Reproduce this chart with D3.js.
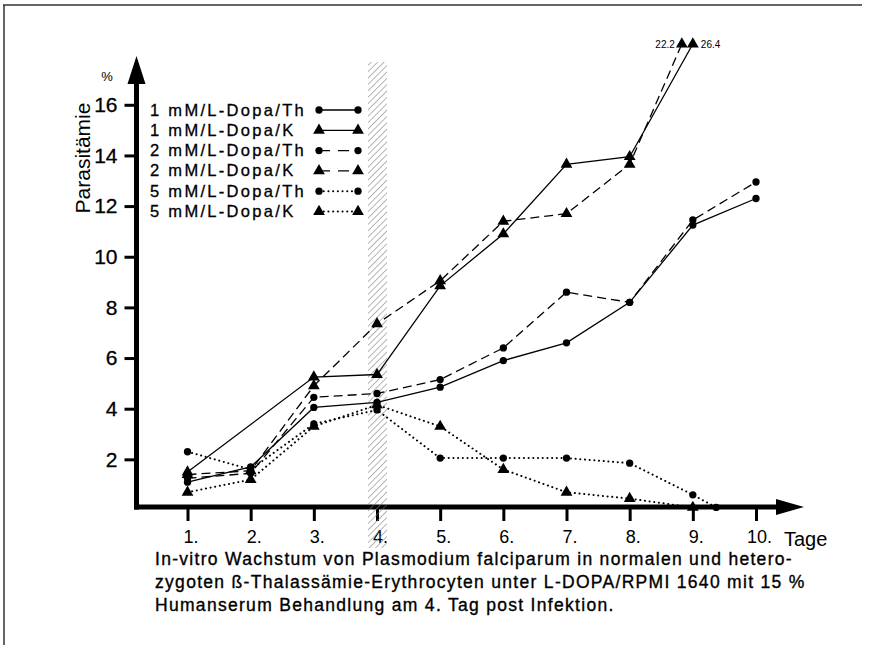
<!DOCTYPE html>
<html>
<head>
<meta charset="utf-8">
<script src="https://cdnjs.cloudflare.com/ajax/libs/d3/7.8.5/d3.min.js"></script>
<style>
  body { margin: 0; background: #fff; }
  svg { display: block; font-family: "Liberation Sans", Arial, sans-serif; }
</style>
</head>
<body>
<script>
// days on the x axis
const days = [1, 2, 3, 4, 5, 6, 7, 8, 9, 10];
const dayLabels = ['1.', '2.', '3.', '4.', '5.', '6.', '7.', '8.', '9.', '10.'];
const yTicks = [2, 4, 6, 8, 10, 12, 14, 16];

// parasitaemia in %, one value per day (null = no point)
const th1 = [1.1, 1.7, 4.05, 4.25, 4.85, 5.9, 6.6, 8.2, 11.25, 12.3];
const k1 = [1.5, null, 5.25, 5.35, 8.85, 10.9, 13.65, 13.95, 26.4, null];
const th2 = [1.25, 1.45, 4.45, 4.6, 5.15, 6.4, 8.6, 8.2, 11.45, 12.95];
const k2 = [1.4, 1.55, 4.9, 7.35, 9.05, 11.4, 11.7, 13.65, 22.2, null];
const th5 = [2.3, 1.6, 3.4, 3.95, 2.05, 2.05, 2.05, 1.85, 0.6, null];
const k5 = [0.7, 1.2, 3.3, 4.15, 3.3, 1.6, 0.7, 0.45, 0.1, null];
// last 5 mM/Th point sits between day 9 and 10
const th5Tail = [9.37, 0.1];

const seriesNames = ['1 mM/L-Dopa/Th', '1 mM/L-Dopa/K', '2 mM/L-Dopa/Th',
                     '2 mM/L-Dopa/K', '5 mM/L-Dopa/Th', '5 mM/L-Dopa/K'];
const caption = [
  'In-vitro Wachstum von Plasmodium falciparum in normalen und hetero-',
  'zygoten ß-Thalassämie-Erythrocyten unter L-DOPA/RPMI 1640 mit 15 %',
  'Humanserum Behandlung am 4. Tag post Infektion.'
];

const width = 885, height = 645;

const svg = d3.select('body').append('svg')
  .attr('width', width)
  .attr('height', height);

// page frame (scan edges)
svg.append('line').attr('x1', 3).attr('y1', 5).attr('x2', 862).attr('y2', 5)
  .attr('stroke', '#333').attr('stroke-width', 1.5);
svg.append('line').attr('x1', 4).attr('y1', 5).attr('x2', 4).attr('y2', 645)
  .attr('stroke', '#333').attr('stroke-width', 1.5);

// scales: values above the top are clamped onto the arrow tip
const x = d3.scaleLinear().domain([1, 10]).range([187.5, 756]);
const y = d3.scaleLinear().domain([0, 18.4]).range([510, 44]).clamp(true);

const axisX = 136.5, axisY = 507;

// hatched band, treatment on day 4
const defs = svg.append('defs');
const pat = defs.append('pattern')
  .attr('id', 'hatch')
  .attr('patternUnits', 'userSpaceOnUse')
  .attr('width', 4.5).attr('height', 4.5)
  .attr('patternTransform', 'rotate(45)');
pat.append('line').attr('x1', 0).attr('y1', 0).attr('x2', 0).attr('y2', 4.5)
  .attr('stroke', '#7a7a7a').attr('stroke-width', 1.1);

// y axis
const yAxis = d3.axisLeft(y).tickValues(yTicks).tickSize(12).tickPadding(7);
const gy = svg.append('g')
  .attr('transform', `translate(${axisX},0)`)
  .call(yAxis);
gy.select('.domain').remove();
gy.selectAll('.tick line').attr('stroke', '#000').attr('stroke-width', 3);
gy.selectAll('.tick text')
  .attr('font-size', 21).attr('fill', '#000')
  .attr('stroke', '#000').attr('stroke-width', 0.3)
  .attr('font-family', '"Liberation Sans", Arial, sans-serif');

svg.append('line')
  .attr('x1', axisX).attr('x2', axisX)
  .attr('y1', axisY + 2.5).attr('y2', 80)
  .attr('stroke', '#000').attr('stroke-width', 5);
svg.append('path')
  .attr('d', `M${axisX - 9},84 L${axisX},56 L${axisX + 9},84 Z`)
  .attr('fill', '#000');

// x axis
const xAxis = d3.axisBottom(x).tickValues(days)
  .tickSize(14).tickPadding(9)
  .tickFormat((d, i) => dayLabels[i]);
const gx = svg.append('g')
  .attr('transform', `translate(0,${axisY})`)
  .call(xAxis);
gx.select('.domain').remove();
gx.selectAll('.tick line').attr('stroke', '#000').attr('stroke-width', 3);
gx.selectAll('.tick text')
  .attr('font-size', 18).attr('fill', '#000').attr('dx', 3)
  .attr('font-family', '"Liberation Sans", Arial, sans-serif');

svg.append('line')
  .attr('x1', axisX - 2.5).attr('x2', 780)
  .attr('y1', axisY).attr('y2', axisY)
  .attr('stroke', '#000').attr('stroke-width', 5);
svg.append('path')
  .attr('d', `M776,${axisY - 8} L804,${axisY} L776,${axisY + 8} Z`)
  .attr('fill', '#000');

svg.append('text')
  .attr('x', 784).attr('y', 546)
  .attr('font-size', 20)
  .text('Tage');

// axis title and unit
svg.append('text')
  .attr('transform', 'translate(90,158) rotate(-90)')
  .attr('text-anchor', 'middle')
  .attr('font-size', 21)
  .text('Parasitämie');
svg.append('text')
  .attr('x', 107).attr('y', 81)
  .attr('text-anchor', 'middle')
  .attr('font-size', 13)
  .text('%');

// hatch band over day 4
const bandX = x(4);
svg.append('rect')
  .attr('x', bandX - 9).attr('y', 62)
  .attr('width', 19).attr('height', 486)
  .attr('fill', 'url(#hatch)');

// series
const styles = [
  { data: th1, shape: d3.symbolCircle, dash: null },
  { data: k1, shape: d3.symbolTriangle, dash: null },
  { data: th2, shape: d3.symbolCircle, dash: '9,5' },
  { data: k2, shape: d3.symbolTriangle, dash: '9,5' },
  { data: th5, shape: d3.symbolCircle, dash: '0.1,4.6' },
  { data: k5, shape: d3.symbolTriangle, dash: '0.1,4.6' }
];

styles.forEach((s, i) => {
  let pts = days.map((d, j) => [d, s.data[j]]).filter(p => p[1] != null);
  if (s.data === th5) pts.push(th5Tail);
  const dotted = s.dash && s.dash.startsWith('0.1');
  // shift the clipped 22.2 marker left so both tips are visible
  const px = p => x(p[0]) + (s.data === k2 && p[1] > 18.4 ? -11 : 0);

  svg.append('path')
    .datum(pts)
    .attr('d', d3.line().x(px).y(d => y(d[1])))
    .attr('fill', 'none')
    .attr('stroke', '#000')
    .attr('stroke-width', dotted ? 2 : 1.3)
    .attr('stroke-linecap', dotted ? 'round' : 'butt')
    .attr('stroke-dasharray', s.dash);

  svg.selectAll(null)
    .data(pts)
    .enter()
    .append('path')
    .attr('transform', p => `translate(${px(p)},${y(p[1])})`)
    .attr('d', d3.symbol().type(s.shape).size(s.shape === d3.symbolCircle ? 42 : 60))
    .attr('fill', '#000');
});

// labels for the clipped values
svg.append('text')
  .attr('x', x(9) - 18).attr('y', y(22.2) + 4)
  .attr('text-anchor', 'end').attr('font-size', 10)
  .text('22.2');
svg.append('text')
  .attr('x', x(9) + 8).attr('y', y(26.4) + 4)
  .attr('font-size', 10)
  .text('26.4');

// legend
const legend = svg.append('g');
seriesNames.forEach((name, i) => {
  const ly = 110 + i * 20.3;
  const s = styles[i];
  const dotted = s.dash && s.dash.startsWith('0.1');
  legend.append('text')
    .attr('x', 150).attr('y', ly + 5.5)
    .attr('font-size', 16.5)
    .attr('letter-spacing', 2.3)
    .attr('stroke', '#000').attr('stroke-width', 0.3)
    .text(name);
  legend.append('line')
    .attr('x1', 319).attr('x2', 358)
    .attr('y1', ly).attr('y2', ly)
    .attr('stroke', '#000')
    .attr('stroke-width', dotted ? 2 : 1.3)
    .attr('stroke-linecap', dotted ? 'round' : 'butt')
    .attr('stroke-dasharray', s.dash ? (dotted ? s.dash : '11,8') : null);
  [319, 358].forEach(lx => {
    legend.append('path')
      .attr('transform', `translate(${lx},${ly})`)
      .attr('d', d3.symbol().type(s.shape).size(s.shape === d3.symbolCircle ? 42 : 60))
      .attr('fill', '#000');
  });
});

// caption
svg.append('g').selectAll('text')
  .data(caption)
  .enter()
  .append('text')
  .attr('x', 155)
  .attr('y', (d, i) => 565 + i * 23)
  .attr('font-size', 17.5)
  .attr('stroke', '#000').attr('stroke-width', 0.35)
  .attr('letter-spacing', 1.3)
  .text(d => d);
</script>
</body>
</html>
